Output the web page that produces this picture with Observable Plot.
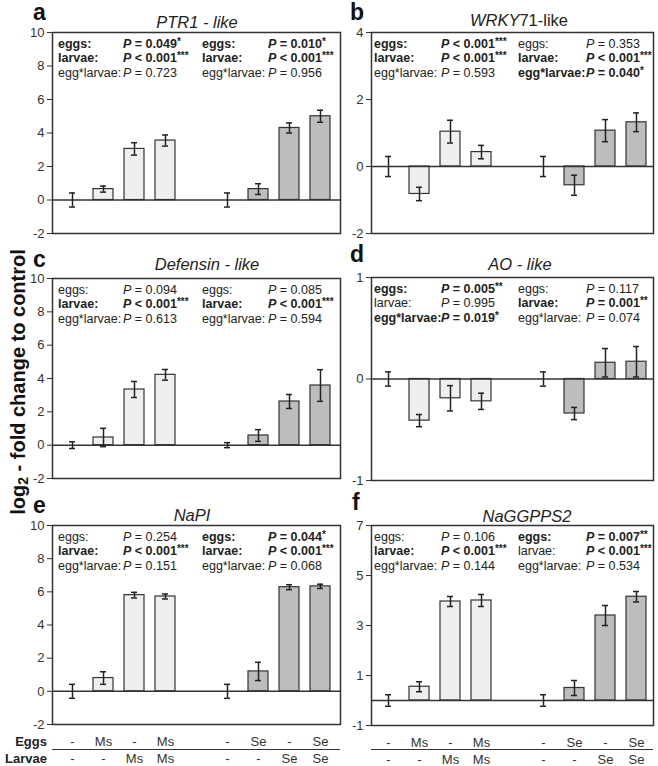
<!DOCTYPE html>
<html>
<head>
<meta charset="utf-8">
<script src="https://cdn.jsdelivr.net/npm/d3@7"></script>
<script src="https://cdn.jsdelivr.net/npm/@observablehq/plot@0.6"></script>
<style>
  html, body { margin: 0; padding: 0; background: white; }
  #chart { position: relative; width: 658px; height: 766px; font-family: "Liberation Sans", Arial, sans-serif; }
  #chart svg { position: absolute; }
</style>
</head>
<body>
<div id="chart"></div>
<script>
// ---------- DATA ----------
const treatments = ["-/-Ms", "Ms/-", "-/Ms", "Ms/Ms", "gap", "-/-Se", "Se/-", "-/Se", "Se/Se"];
const barKeys = ["-/-Ms", "Ms/-", "-/Ms", "Ms/Ms", "-/-Se", "Se/-", "-/Se", "Se/Se"];
const eggsRow = ["-", "Ms", "-", "Ms", "", "-", "Se", "-", "Se"];
const larvaeRow = ["-", "-", "Ms", "Ms", "", "-", "-", "Se", "Se"];

const ptr1Mean = [0, 0.65, 3.05, 3.55, 0, 0.65, 4.3, 5.0];
const ptr1Err  = [0.42, 0.18, 0.37, 0.33, 0.42, 0.32, 0.3, 0.36];
const wrkyMean = [0, -0.82, 1.04, 0.43, 0, -0.56, 1.07, 1.32];
const wrkyErr  = [0.3, 0.2, 0.34, 0.2, 0.3, 0.3, 0.33, 0.28];
const defMean  = [0, 0.46, 3.34, 4.22, 0, 0.58, 2.62, 3.58];
const defErr   = [0.2, 0.55, 0.48, 0.32, 0.15, 0.35, 0.42, 0.95];
const aoMean   = [0, -0.41, -0.19, -0.22, 0, -0.34, 0.16, 0.17];
const aoErr    = [0.07, 0.06, 0.125, 0.08, 0.07, 0.06, 0.14, 0.15];
const napiMean = [0, 0.8, 5.8, 5.72, 0, 1.2, 6.28, 6.33];
const napiErr  = [0.42, 0.38, 0.17, 0.15, 0.42, 0.55, 0.15, 0.13];
const ggppsMean = [0, 0.55, 3.96, 4.0, 0, 0.5, 3.4, 4.15];
const ggppsErr  = [0.23, 0.2, 0.2, 0.24, 0.23, 0.3, 0.4, 0.21];

const ticksA = [-2, 0, 2, 4, 6, 8, 10];
const ticksB = [-2, 0, 2, 4];
const ticksD = [-1, 0, 1];
const ticksF = [-1, 1, 3, 5, 7];

const statLabels = ["eggs:", "larvae:", "egg*larvae:"];
// [p text, stars, label bold, p bold]; first 3 = Ms column, last 3 = Se column
const statsA = [["= 0.049", "*", 1, 1], ["< 0.001", "***", 1, 1], ["= 0.723", "", 0, 0],
                ["= 0.010", "*", 1, 1], ["< 0.001", "***", 1, 1], ["= 0.956", "", 0, 0]];
const statsB = [["< 0.001", "***", 1, 1], ["< 0.001", "***", 1, 1], ["= 0.593", "", 0, 0],
                ["= 0.353", "", 0, 0], ["< 0.001", "***", 1, 1], ["= 0.040", "*", 1, 1]];
const statsC = [["= 0.094", "", 0, 0], ["< 0.001", "***", 1, 1], ["= 0.613", "", 0, 0],
                ["= 0.085", "", 0, 0], ["< 0.001", "***", 1, 1], ["= 0.594", "", 0, 0]];
const statsD = [["= 0.005", "**", 1, 1], ["= 0.995", "", 0, 0], ["= 0.019", "*", 1, 1],
                ["= 0.117", "", 0, 0], ["= 0.001", "**", 1, 1], ["= 0.074", "", 0, 0]];
const statsE = [["= 0.254", "", 0, 0], ["< 0.001", "***", 1, 1], ["= 0.151", "", 0, 0],
                ["= 0.044", "*", 1, 1], ["< 0.001", "***", 1, 1], ["= 0.068", "", 0, 0]];
const statsF = [["= 0.106", "", 0, 0], ["< 0.001", "***", 1, 1], ["= 0.144", "", 0, 0],
                ["= 0.007", "**", 1, 1], ["< 0.001", "***", 0, 1], ["= 0.534", "", 0, 0]];

// title parts: [text, italic]
const titleA = [["PTR1 - like", 1]];
const titleB = [["WRKY", 1], ["71-like", 0]];
const titleC = [["Defensin - like", 1]];
const titleD = [["AO - like", 1]];
const titleE = [["NaPI", 1]];
const titleF = [["NaGGPPS2", 1]];

const fillMs = "#efefef";
const fillSe = "#bdbdbd";
const ink = "#333";

// ---------- LAYOUT ----------
const panels = [
  {letter: "a", mean: ptr1Mean, err: ptr1Err, dom: [-2, 10], ticks: ticksA, stats: statsA, title: titleA,
   left: 0, top: 0, w: 345, h: 245, mt: 32, mb: 12, ml: 52, mr: 5, lx: 33, ly: 20, tx: 197, ty: 28},
  {letter: "b", mean: wrkyMean, err: wrkyErr, dom: [-2, 4], ticks: ticksB, stats: statsB, title: titleB,
   left: 330, top: 0, w: 328, h: 245, mt: 32, mb: 12, ml: 41, mr: 5, lx: 350, ly: 20, tx: 519, ty: 26},
  {letter: "c", mean: defMean, err: defErr, dom: [-2, 10], ticks: ticksA, stats: statsC, title: titleC,
   left: 0, top: 245, w: 345, h: 245, mt: 33, mb: 12, ml: 52, mr: 5, lx: 33, ly: 267, tx: 207, ty: 270},
  {letter: "d", mean: aoMean, err: aoErr, dom: [-1, 1], ticks: ticksD, stats: statsD, title: titleD,
   left: 330, top: 245, w: 328, h: 245, mt: 32, mb: 10, ml: 41, mr: 5, lx: 350, ly: 262, tx: 520, ty: 270},
  {letter: "e", mean: napiMean, err: napiErr, dom: [-2, 10], ticks: ticksA, stats: statsE, title: titleE,
   left: 0, top: 490, w: 345, h: 276, mt: 35, mb: 42, ml: 52, mr: 5, lx: 33, ly: 513, tx: 192, ty: 521, bottom: true},
  {letter: "f", mean: ggppsMean, err: ggppsErr, dom: [-1, 7], ticks: ticksF, stats: statsF, title: titleF,
   left: 330, top: 490, w: 328, h: 276, mt: 35, mb: 41, ml: 41, mr: 5, lx: 352, ly: 510, tx: 527, ty: 522, bottom: true}
];

const chart = document.getElementById("chart");

for (const p of panels) {
  const data = p.mean.map((v, i) => ({t: barKeys[i], v, e: p.err[i], g: i < 4 ? "Ms" : "Se"}));
  const errStyle = {stroke: "#222", strokeWidth: 1.5};
  const marks = [
    Plot.barY(data.filter(d => d.g === "Ms"), {x: "t", y: "v", fill: fillMs, stroke: ink, strokeWidth: 1.2}),
    Plot.barY(data.filter(d => d.g === "Se"), {x: "t", y: "v", fill: fillSe, stroke: ink, strokeWidth: 1.2}),
    Plot.ruleY([0], {stroke: ink, strokeWidth: 1.5}),
    Plot.ruleX(data, {x: "t", y1: d => d.v - d.e, y2: d => d.v + d.e, ...errStyle}),
    Plot.tickY(data, {x: "t", y: d => d.v + d.e, insetLeft: 7, insetRight: 7, ...errStyle}),
    Plot.tickY(data, {x: "t", y: d => d.v - d.e, insetLeft: 7, insetRight: 7, ...errStyle}),
    Plot.axisY({ticks: p.ticks, tickSize: 5, tickPadding: 3, tickFormat: d => String(d), fontSize: 13, stroke: ink, label: null}),
    Plot.frame({stroke: ink, strokeWidth: 1.5})
  ];
  if (p.bottom) {
    marks.push(Plot.axisX({tickSize: 0, tickPadding: 12, fontSize: 13, label: null,
      tickFormat: d => eggsRow[treatments.indexOf(d)]}));
    marks.push(Plot.axisX({tickSize: 0, tickPadding: 29, fontSize: 13, label: null,
      tickFormat: d => larvaeRow[treatments.indexOf(d)]}));
  }
  const svg = Plot.plot({
    width: p.w, height: p.h,
    marginTop: p.mt, marginBottom: p.mb, marginLeft: p.ml, marginRight: p.mr,
    x: {domain: treatments, paddingInner: 0.34, paddingOuter: 0.2, axis: null, label: null},
    y: {domain: p.dom, axis: null, label: null},
    style: {fontFamily: "'Liberation Sans', Arial, sans-serif", fontSize: "13px", color: ink, background: "transparent", overflow: "visible"},
    marks
  });
  svg.style.left = p.left + "px";
  svg.style.top = p.top + "px";
  chart.appendChild(svg);
}

// ---------- TEXT OVERLAY ----------
const ov = d3.select(chart).append("svg")
  .attr("width", 658).attr("height", 766)
  .style("left", "0px").style("top", "0px").style("pointer-events", "none")
  .style("font-family", "'Liberation Sans', Arial, sans-serif");

for (const p of panels) {
  const fx = p.left + p.ml, fy = p.top + p.mt;
  ov.append("text").attr("x", p.lx).attr("y", p.ly)
    .attr("font-size", 23).attr("font-weight", "bold").attr("fill", "#111").text(p.letter);
  const t = ov.append("text").attr("x", p.tx).attr("y", p.ty).attr("text-anchor", "middle")
    .attr("font-size", 16.5).attr("fill", "#222");
  for (const [s, it] of p.title) t.append("tspan").attr("font-style", it ? "italic" : "normal").text(s);

  const right = p.left > 0;
  const colLabel = [fx + (right ? 3 : 6), fx + (right ? 147 : 150)];
  const colP = [fx + (right ? 70 : 71), fx + (right ? 215 : 216)];
  p.stats.forEach((s, k) => {
    const c = Math.floor(k / 3), r = k % 3;
    const y = fy + 15.5 + r * 14.5;
    ov.append("text").attr("x", colLabel[c]).attr("y", y).attr("font-size", 12.5)
      .attr("font-weight", s[2] ? "bold" : "normal").attr("fill", "#222").text(statLabels[r]);
    const pt = ov.append("text").attr("x", colP[c]).attr("y", y).attr("font-size", 12.5)
      .attr("font-weight", s[3] ? "bold" : "normal").attr("fill", "#222");
    pt.append("tspan").attr("font-style", "italic").text("P");
    pt.append("tspan").text(" " + s[0]);
    if (s[1]) pt.append("tspan").attr("font-size", 10).attr("dy", -3).text(s[1]);
  });
}

// Eggs / Larvae row labels and separator lines
ov.append("text").attr("x", 47).attr("y", 746).attr("text-anchor", "end")
  .attr("font-size", 13).attr("font-weight", "bold").attr("fill", "#222").text("Eggs");
ov.append("text").attr("x", 47).attr("y", 763).attr("text-anchor", "end")
  .attr("font-size", 13).attr("font-weight", "bold").attr("fill", "#222").text("Larvae");
for (const p of panels.filter(d => d.bottom)) {
  ov.append("line").attr("x1", p.left + p.ml).attr("x2", p.left + p.w - p.mr)
    .attr("y1", 749.5).attr("y2", 749.5).attr("stroke", ink).attr("stroke-width", 1.2);
}

// y-axis title
const yl = ov.append("text").attr("transform", "translate(18,382) rotate(-90)")
  .attr("text-anchor", "middle").attr("dominant-baseline", "central")
  .attr("font-size", 20).attr("font-weight", "bold").attr("fill", "#111");
yl.append("tspan").text("log");
yl.append("tspan").attr("font-size", 14).attr("dy", 5).text("2");
yl.append("tspan").attr("dy", -5).text(" - fold change to control");
</script>
</body>
</html>
